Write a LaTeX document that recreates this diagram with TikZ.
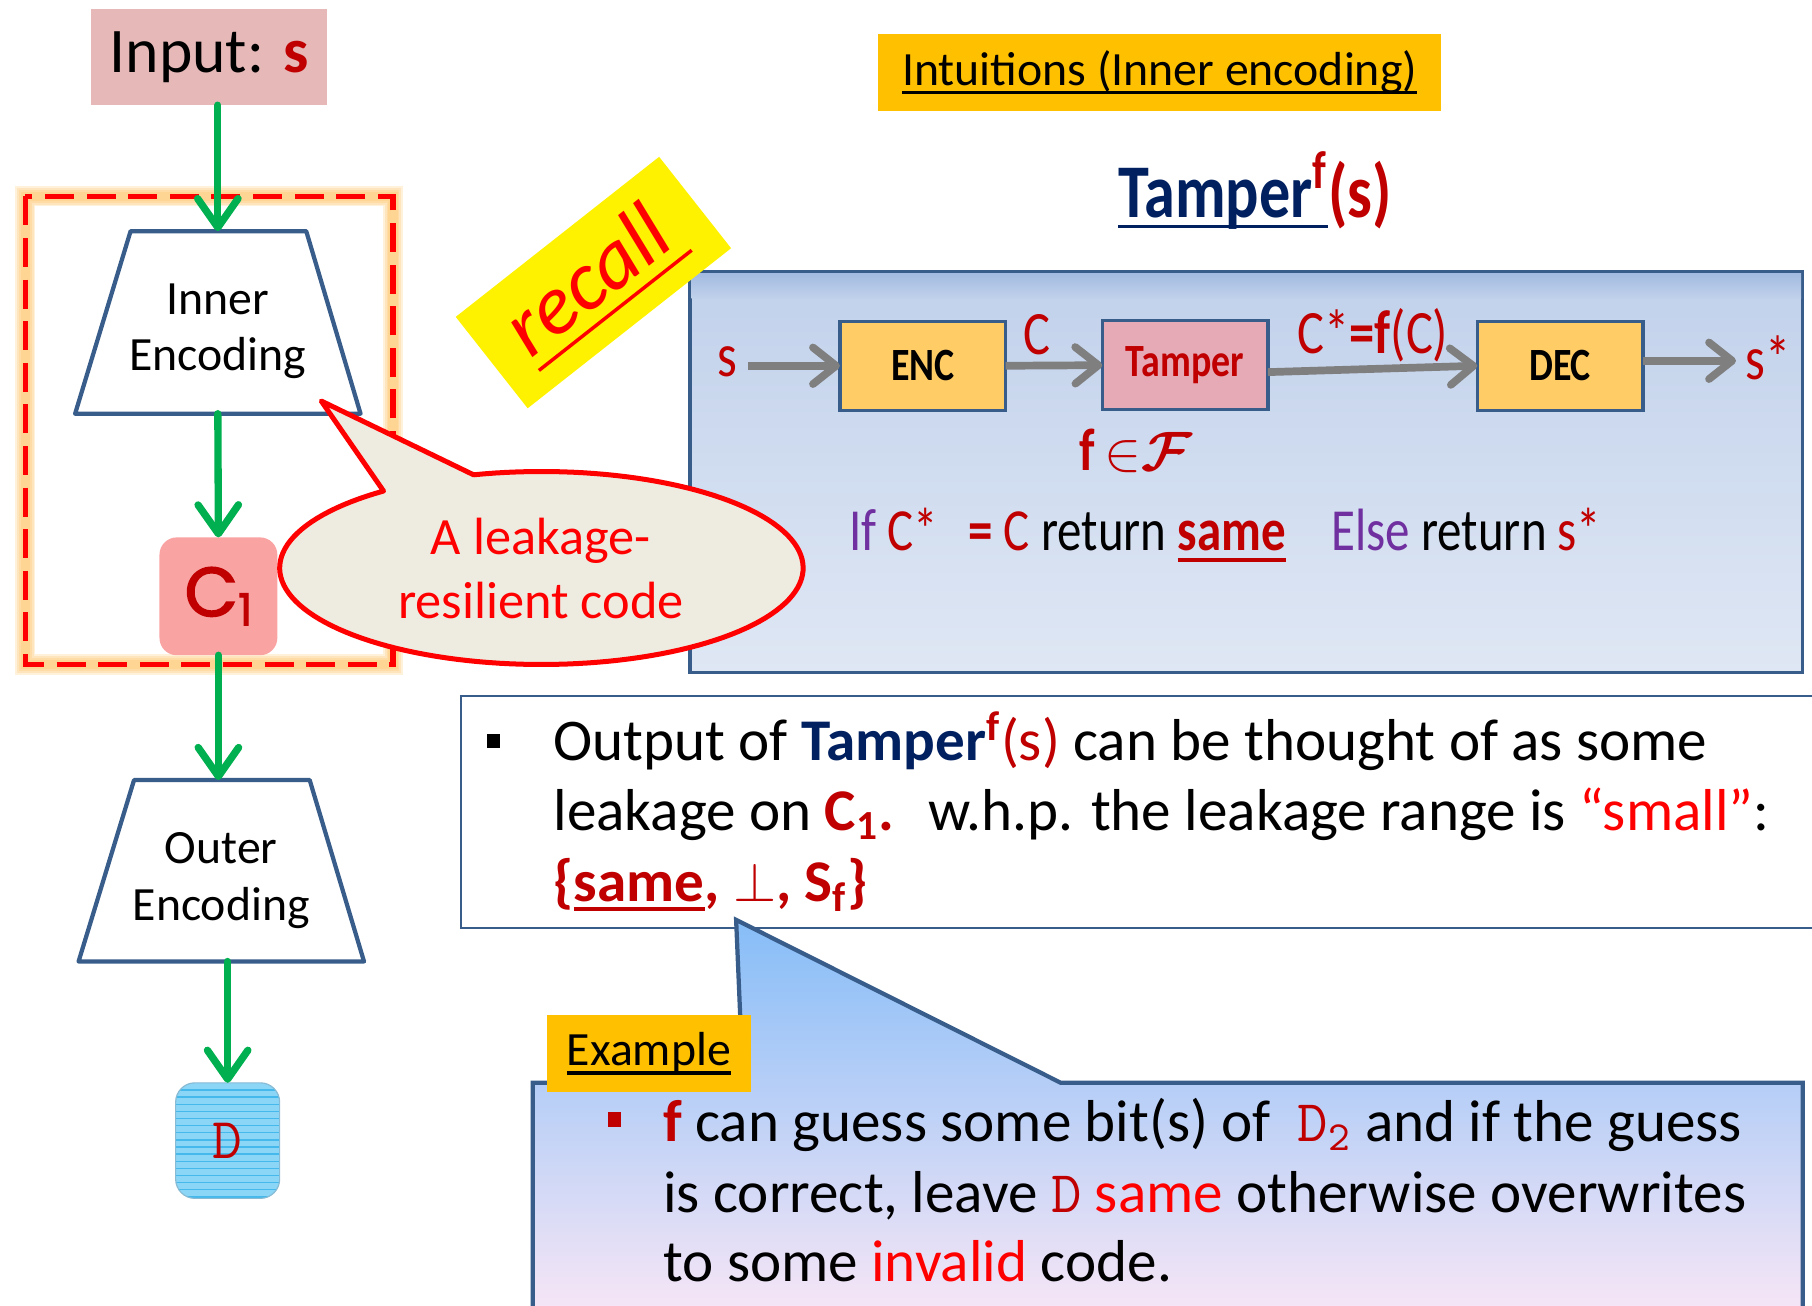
\documentclass[tikz,border=0pt]{standalone}
\usepackage{fontspec}
\setmainfont{Carlito}
\newfontfamily\condfont[FakeStretch=0.82]{Carlito}
\newfontfamily\geofont[FakeBold=2.2]{Poppins}
\usetikzlibrary{arrows.meta,calc}

\newcommand\fsz[2]{\fontsize{#1}{#2}\selectfont}
% underline: #1 depth below baseline, #2 thickness, #3 text
\newcommand\myul[3]{\leavevmode\setbox0\hbox{#3}\rlap{\rule[-#1]{\wd0}{#2}}\box0}

\definecolor{cGreen}{HTML}{00B050}
\definecolor{cDark}{HTML}{C00000}
\definecolor{cRed}{HTML}{FF0000}
\definecolor{cNavy}{HTML}{002060}
\definecolor{cPurple}{HTML}{7030A0}
\definecolor{cOrange}{HTML}{FFC000}
\definecolor{cOutline}{HTML}{385D8A}
\definecolor{cGrey}{HTML}{7F7F7F}
\definecolor{cInput}{HTML}{E6B9B8}
\definecolor{cEnc}{HTML}{FFCC66}
\definecolor{cTamp}{HTML}{E6A9B6}
\definecolor{cCone}{HTML}{F9A3A3}
\definecolor{cDfill}{HTML}{8BD5F7}
\definecolor{cDline}{HTML}{45B9EC}
\definecolor{cEll}{HTML}{EEECE1}
\definecolor{cGlow}{HTML}{FFB848}
\definecolor{pTop}{HTML}{C1D1EB}
\definecolor{pBot}{HTML}{DFE7F4}
\definecolor{pBand}{HTML}{A3BBE1}
\definecolor{cbTop}{HTML}{86BDF7}
\definecolor{cbMid}{HTML}{C3D6F1}
\definecolor{cbBot}{HTML}{FAE7F6}

\tikzset{
  garrow/.style={draw=cGreen, line width=1.9pt, line cap=round,
    -{Straight Barb[length=7.5pt,width=10.5pt,round]}},
  grarrow/.style={draw=cGrey, line width=2pt,
    -{Straight Barb[length=6pt,width=9.5pt,round]}},
  trap/.style={draw=cOutline, line width=1.1pt, fill=white, line join=round},
  traplabel/.style={align=center, font=\fsz{12.4}{14.7}},
  pbox/.style={draw=cOutline, line width=0.9pt, minimum width=43pt, minimum height=23.1pt,
    font=\condfont\bfseries\fsz{12}{14}},
  plab/.style={text=cDark, font=\condfont\fsz{16}{18}},
  tline/.style={anchor=base west, font=\fsz{15.35}{18}},
  tagbox/.style={fill=cOrange, minimum height=20.1pt, font=\fsz{12.4}{15}},
  glowline/.style={cGlow, line width=#1, opacity=0.2},
}

\begin{document}
\begin{tikzpicture}[x=0.3pt,y=-0.3pt, every node/.style={inner sep=0pt,outer sep=0pt}]
\useasboundingbox (0,0) rectangle (1568,1130);
\begin{scope}
\clip (0,0) rectangle (1568,1130);

% glowing dashed frame around the inner stage
\foreach \w in {5.2pt,4.2pt,3.2pt,2.4pt}
  \draw[glowline=\w] (22,170) rectangle (340,575);
\draw[cRed, line width=1.5pt, dash pattern=on 7.5pt off 3.3pt] (22,170) rectangle (340,575);

% the tampering experiment panel
\node[draw=cOutline, line width=0.9pt, top color=pTop, bottom color=pBot,
      minimum width=288.9pt, minimum height=104.1pt] (panel) at (1078.5,408.5) {};
\fill[top color=pBand, bottom color=pTop]
  ([xshift=0.45pt,yshift=-0.45pt]panel.north west) rectangle ([xshift=-0.45pt,yshift=-7pt]panel.north east);

\node[pbox, fill=cEnc] (enc) at (798.5,316.5) {ENC};
\node[pbox, fill=cTamp, text=cDark] (tamp) at (1025.5,316) {Tamper};
\node[pbox, fill=cEnc] (dec) at (1350,316.5) {DEC};

\node[plab] (sin) at (629,313) {s};
\node[plab] (clab) at (897,290) {C};
\node[plab] (cstar) at (1188,290) {C*{\bfseries=f}(C)};
\node[plab] (sout) at (1530,310) {s*};
\node[plab, font=\condfont\fsz{15.5}{18}] (fin) at (983,390) {{\bfseries f}\,$\in${\boldmath$\mathcal{F}$}};

\draw[grarrow, shorten <=3pt] (sin.east |- enc.west) -- (enc.west);
\draw[grarrow] (enc.east) -- (tamp.west);
\draw[grarrow] ([yshift=-1.8pt]tamp.east) -- (dec.west);
\draw[grarrow, shorten >=2.5pt] ([yshift=1.3pt]dec.east) -- ([yshift=1.3pt]dec.east -| sout.west);

\node[anchor=west, font=\condfont\fsz{15.5}{18}] (cond) at (735,463)
  {{\color{cPurple}If} {\color{cDark}C*\hspace{5pt} {\bfseries=} C} return
   {\color{cDark}\bfseries\myul{3.2pt}{1.2pt}{same}}\hspace{9pt} {\color{cPurple}Else} return {\color{cDark}s*}};

% left column: the two encoding stages
\node[fill=cInput, minimum width=61.2pt, minimum height=24.9pt, font=\fsz{16.5}{19}]
  (input) at (181,49.5) {Input: {\bfseries\color{cDark}s}};

\draw[trap] (113,200) -- (265,200) -- (312,358) -- (65,358) -- cycle;
\coordinate (inner-top) at (188.5,200);
\coordinate (inner-bot) at (188.5,358);
\node[traplabel] (inner) at (188.5,286.5) {Inner\\Encoding};

\draw[trap] (116,675) -- (268,675) -- (315,832) -- (68,832) -- cycle;
\coordinate (outer-top) at (191.5,675);
\coordinate (outer-bot) at (191.5,832);
\node[traplabel] (outer) at (191.5,762) {Outer\\Encoding};

\node[fill=cCone, rounded corners=4.5pt, minimum width=30.6pt, minimum height=30.6pt]
  (c1) at (189,516) {\geofont\color{cDark}\fsz{18}{20}C\raisebox{-2.4pt}{\fsz{11.5}{12}1}};
\node[fill=cDfill, draw=cDfill!70!gray, line width=0.3pt, rounded corners=5pt,
      minimum width=27pt, minimum height=30pt,
      path picture={\foreach \k in {1,...,16}
        \draw[cDline, line width=0.35pt]
          ([yshift=-\k*1.85pt]path picture bounding box.north west) --
          ([yshift=-\k*1.85pt]path picture bounding box.north east);}]
  (dbox) at (197,987) {\ttfamily\fsz{15}{16}\color{cDark}D};

\draw[garrow] (input.south -| inner-top) -- (inner-top);
\draw[garrow] (inner-bot) -- (c1.north);
\draw[garrow] (c1.south) -- (c1.south |- outer-top);
\draw[garrow] (outer-bot -| dbox.north) -- (dbox.north);

% speech bubble naming the inner code
\path[draw=cRed, line width=1.3pt, fill=cEll, line join=round]
  (331.9,424.9) -- (278,347) -- (409.9,410.9) --
  plot[domain=255:592.9, samples=140, variable=\t] ({468.5+226.5*cos(\t)}, {491.5+83.5*sin(\t)}) -- cycle;
\node[text=cRed, align=center, font=\fsz{13.6}{16.5}] (leak) at (468,492) {A leakage-\\resilient code};

% sticky note
\node[fill=yellow, rotate=38.2, minimum width=67.2pt, minimum height=30.2pt, text=cRed,
      font=\itshape\fsz{22}{24}] (recall) at (513.5,244.5)
  {\raisebox{-1.5pt}{\myul{4pt}{0.9pt}{recall\hspace{2pt}}}\hspace{8pt}};

% headings
\node[tagbox, minimum width=146.1pt] (intu) at (1003.5,62.5) {\myul{2.4pt}{0.8pt}{Intuitions (Inner encoding)}};
\node[font=\condfont\bfseries\fsz{19.7}{23}, text=cNavy] (title) at (1086,165)
  {\myul{2.6pt}{0.8pt}{Tamper\textsuperscript{\color{cDark}f}}{\color{cDark}(s)}};

% explanation box
\node[draw=cOutline, line width=0.6pt, fill=white, minimum width=360.3pt, minimum height=60.3pt]
  (tbox) at (999.5,702.5) {};
\node[fill=black, minimum width=3.2pt, minimum height=3.6pt] (tb1) at (427,641) {};
\node[tline] (l1) at (479,658) {Output of {\bfseries\color{cNavy}Tamper}{\color{cDark}\textsuperscript{\bfseries f}(s)} can be thought of as some};
\node[tline] (l2) at (479,719) {leakage on {\color{cDark}\bfseries C\textsubscript{1}.}\hspace{4pt} w.h.p. the leakage range is {\color{cRed}“small”}:};
\node[tline] (l3) at (479,780) {\color{cDark}\bfseries\{\myul{2.6pt}{1.1pt}{same}, {\mdseries$\bot$}, S\textsubscript{f}\}};

% example callout
\path[draw=cOutline, line width=1.1pt, top color=cbTop, middle color=cbMid, bottom color=cbBot]
  (461,1145) -- (461,937) -- (643,937) -- (637,796) -- (918,937) -- (1560,937) -- (1560,1145) -- cycle;
\node[tagbox, minimum width=53.1pt] (ex) at (561.5,911.5) {\myul{2.4pt}{0.8pt}{Example}};
\node[fill=cDark, minimum width=3.3pt, minimum height=3.9pt] (cb1) at (532,969) {};
\node[tline] (m1) at (574,988) {{\color{cDark}\bfseries f} can guess some bit(s) of \ {\ttfamily\color{cDark}D\textsubscript{2}} and if the guess};
\node[tline] (m2) at (574,1049) {is correct, leave {\ttfamily\color{cDark}D} {\color{cRed}same} otherwise overwrites};
\node[tline] (m3) at (574,1109) {to some {\color{cRed}invalid} code.};

\end{scope}
\end{tikzpicture}
\end{document}
